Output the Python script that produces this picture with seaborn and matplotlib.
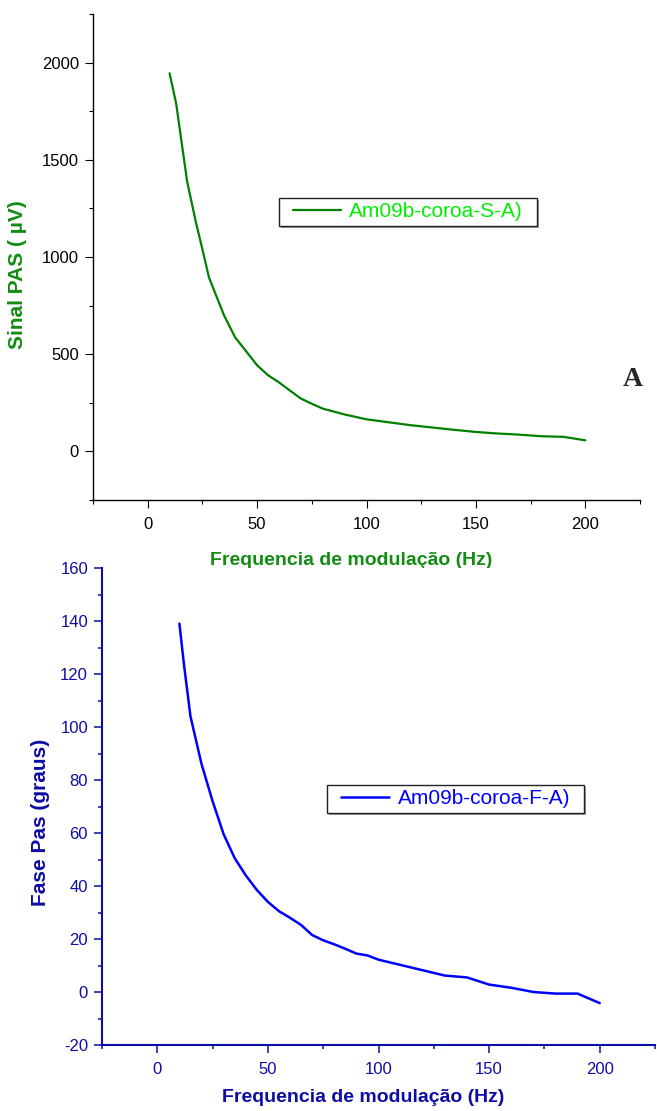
import numpy as np
import pandas as pd
import seaborn as sns
import matplotlib
matplotlib.use("Agg")
import matplotlib.pyplot as plt
from matplotlib.ticker import MultipleLocator
from matplotlib.patches import Rectangle

# --- data ---
freq_sinal = [10, 13, 16, 18, 20, 22, 25, 28, 30, 35, 40, 45, 50, 55, 60, 65,
              70, 75, 80, 90, 100, 110, 120, 130, 140, 150, 160, 170, 180, 190, 200]
sinal_pas = [1945, 1790, 1550, 1390, 1285, 1180, 1040, 895, 838, 697, 586, 515,
             443, 392, 355, 313, 272, 245, 220, 190, 165, 150, 135, 123, 111,
             100, 92, 86, 78, 75, 57]

freq_fase = [10, 12, 15, 20, 25, 30, 35, 40, 45, 50, 55, 60, 65, 70, 75, 80,
             85, 90, 95, 100, 110, 120, 130, 140, 150, 160, 170, 180, 190, 200]
fase_pas = [139, 124, 104, 86, 72, 59.5, 50.5, 44, 38.5, 34, 30.5, 28, 25.3,
            21.5, 19.5, 18, 16.3, 14.5, 13.8, 12.2, 10.2, 8.2, 6.2, 5.5, 2.8,
            1.6, 0, -0.6, -0.6, -4.2]

label_s = "Am09b-coroa-S-A)"
label_f = "Am09b-coroa-F-A)"
xlabel = "Frequencia de modulação (Hz)"

GREEN = "#008000"
GREEN_TXT = "#138c13"
LIME = "#00ee00"
BLUE = "#0000ff"
NAVY = "#0d0da6"

sns.set_style("ticks")
plt.rcParams["font.family"] = ["Liberation Sans", "DejaVu Sans"]
plt.rcParams["axes.unicode_minus"] = False

df_s = pd.DataFrame({"freq": freq_sinal, "sinal": sinal_pas})
df_f = pd.DataFrame({"freq": freq_fase, "fase": fase_pas})

fig = plt.figure(figsize=(6.57, 11.11), dpi=100)
ax1 = fig.add_axes([93 / 657, 1 - 500 / 1111, 547 / 657, 486 / 1111])
ax2 = fig.add_axes([102 / 657, 1 - 1045 / 1111, 553 / 657, 477 / 1111])


def style_axis(ax, color, spine_w, tick_w):
    for s in ["top", "right"]:
        ax.spines[s].set_visible(False)
    for s in ["left", "bottom"]:
        ax.spines[s].set_color(color)
        ax.spines[s].set_linewidth(spine_w)
    ax.tick_params(which="major", direction="out", length=6, width=tick_w,
                   color=color, labelcolor=color, labelsize=12, pad=4)
    ax.tick_params(which="minor", direction="out", length=2.8, width=tick_w,
                   color=color)
    ax.set_xlim(-25, 225)
    ax.xaxis.set_major_locator(MultipleLocator(50))
    ax.xaxis.set_minor_locator(MultipleLocator(25))
    ax.tick_params(axis="x", which="major", pad=6)


# --- top panel: PAS signal ---
sns.lineplot(data=df_s, x="freq", y="sinal", ax=ax1, color=GREEN, lw=1.6,
             label=label_s)
style_axis(ax1, "black", 1.0, 0.8)
ax1.set_ylim(-250, 2250)
ax1.yaxis.set_major_locator(MultipleLocator(500))
ax1.yaxis.set_minor_locator(MultipleLocator(250))
ax1.set_xlabel(xlabel, fontsize=14, fontweight="bold", color=GREEN_TXT)
ax1.xaxis.set_label_coords(0.472, -0.108)
ax1.set_ylabel("Sinal PAS ( µV)", fontsize=15, fontweight="bold",
               color=GREEN_TXT)
ax1.yaxis.set_label_coords(-0.12, 0.463)

# --- bottom panel: PAS phase ---
sns.lineplot(data=df_f, x="freq", y="fase", ax=ax2, color=BLUE, lw=1.8,
             label=label_f)
style_axis(ax2, NAVY, 1.5, 1.1)
ax2.set_ylim(-20, 160)
ax2.yaxis.set_major_locator(MultipleLocator(20))
ax2.yaxis.set_minor_locator(MultipleLocator(10))
ax2.set_xlabel(xlabel, fontsize=14, fontweight="bold", color=NAVY)
ax2.xaxis.set_label_coords(0.472, -0.092)
ax2.set_ylabel("Fase Pas (graus)", fontsize=15, fontweight="bold", color=NAVY)
ax2.yaxis.set_label_coords(-0.094, 0.467)

# legends without mpl frame; box drawn by hand with wider side padding
legends = []
for ax, txtcol, anchor in [(ax1, LIME, (0.366, 0.593)),
                           (ax2, BLUE, (0.433, 0.516))]:
    leg = ax.legend(loc="center left", bbox_to_anchor=anchor, frameon=False,
                    fontsize=15, handlelength=2.3, handletextpad=0.4,
                    borderpad=0, borderaxespad=0, labelcolor=txtcol)
    legends.append(leg)

fig.canvas.draw()
inv = fig.transFigure.inverted()
px_w, px_h = 1 / 657, 1 / 1111
for leg in legends:
    bb = leg.get_window_extent()
    x0, x1 = bb.x0 - 14, bb.x1 + 14
    yc = (bb.y0 + bb.y1) / 2
    y0, y1 = yc - 14, yc + 14
    (fx0, fy0), (fx1, fy1) = inv.transform([(x0, y0), (x1, y1)])
    shadow = Rectangle((fx0 + 2 * px_w, fy0 - 2 * px_h), fx1 - fx0, fy1 - fy0,
                       transform=fig.transFigure, facecolor="#9a9a9a",
                       edgecolor="none", zorder=2)
    box = Rectangle((fx0, fy0), fx1 - fx0, fy1 - fy0,
                    transform=fig.transFigure, facecolor="white",
                    edgecolor="#222222", lw=1.0, zorder=3)
    fig.add_artist(shadow)
    fig.add_artist(box)
    # move legend to the figure so it sits above the box
    leg.remove()
    leg.set_zorder(4)
    fig.add_artist(leg)

fig.text(0.963, 0.658, "A", fontsize=20, fontweight="bold",
         family=["Liberation Serif", "DejaVu Serif"], ha="center",
         va="center")

fig.savefig("out.png", dpi=100)
